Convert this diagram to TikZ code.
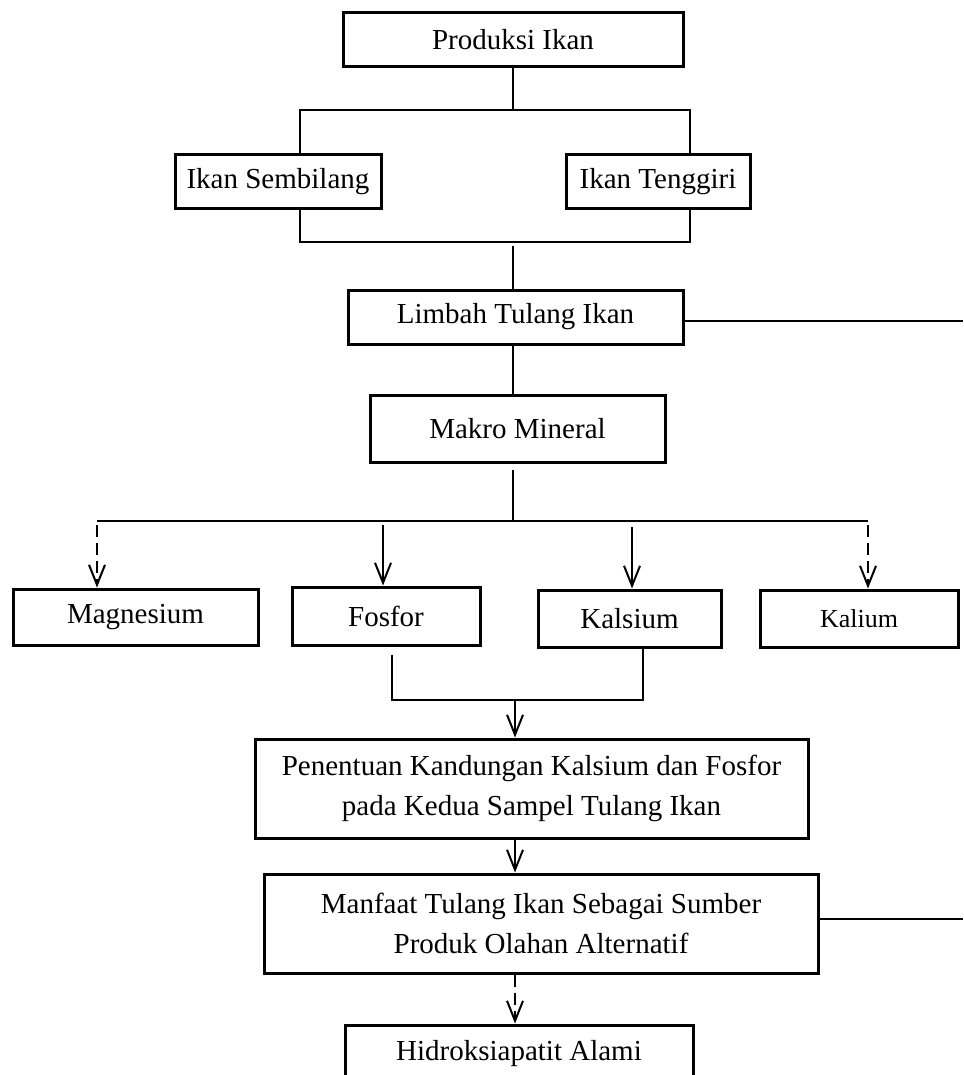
\documentclass[tikz,border=0pt]{standalone}
\usepackage{fontspec}
\setmainfont{Liberation Serif}
\usetikzlibrary{arrows.meta}
\begin{document}
\begin{tikzpicture}[x=1pt,y=-1pt,
  box/.style={draw, line width=3pt, inner sep=0pt, font=\fontsize{29}{40}\selectfont, align=center},
  conn/.style={line width=2pt},
  arr/.style={conn, -{Straight Barb[length=20pt,width=16pt,line width=2pt]}},
  darr/.style={arr, dash pattern=on 12pt off 6pt}]
\useasboundingbox (0,0) rectangle (963,1075);
\clip (0,0) rectangle (963,1075);
\fill[white] (0,0) rectangle (963,1075);

\node[box, minimum width=340pt, minimum height=54pt] (prod) at (513,40) {Produksi Ikan};
\node[box, minimum width=206pt, minimum height=54pt] (semb) at (278,182) {Ikan Sembilang};
\node[box, minimum width=184pt, minimum height=54pt] (teng) at (658,182) {Ikan Tenggiri};
\node[box, minimum width=335pt, minimum height=54pt] (limb) at (515.5,317) {Limbah Tulang Ikan};
\node[box, minimum width=295pt, minimum height=67pt] (makro) at (517.5,428.5) {Makro Mineral};
\node[box, minimum width=245pt, minimum height=56pt] (mag) at (135.5,617) {Magnesium};
\node[box, minimum width=188pt, minimum height=58pt] (fos) at (386,616) {Fosfor};
\node[box, minimum width=183pt, minimum height=57pt] (kal) at (629.5,618.5) {Kalsium};
\node[box, minimum width=198pt, minimum height=57pt, font=\fontsize{26}{32}\selectfont] (kali) at (859,618.5) {Kalium};
\node[box, minimum width=553pt, minimum height=99pt] (pen) at (531.5,788.5) {Penentuan Kandungan Kalsium dan Fosfor\\pada Kedua Sampel Tulang Ikan};
\node[box, minimum width=554pt, minimum height=99pt] (man) at (541,923.5) {Manfaat Tulang Ikan Sebagai Sumber\\Produk Olahan Alternatif};
\node[box, minimum width=348pt, minimum height=57pt] (hid) at (519,1053.5) {Hidroksiapatit Alami};

% top split
\coordinate (t1) at (513,110);
\coordinate (tl) at (300,110);
\coordinate (tr) at (690,110);
\draw[conn] (prod.south -| t1) -- (t1);
\draw[conn] (tl |- semb.north) -- (tl) -- (tr) -- (tr |- teng.north);
% join
\coordinate (jl) at (300,242);
\coordinate (jr) at (690,242);
\coordinate (jm) at (513,246);
\draw[conn] (jl |- semb.south) -- (jl) -- (jr) -- (jr |- teng.south);
\draw[conn] (jm) -- (jm |- limb.north);
% side lines
\coordinate (e1) at (963,321);
\draw[conn] (limb.east |- e1) -- (e1);
\coordinate (e2) at (963,919);
\draw[conn] (man.east |- e2) -- (e2);
% limbah to makro
\draw[conn] (limb.south -| jm) -- (makro.north -| jm);
% bus
\coordinate (m1) at (513,470);
\coordinate (bm) at (513,521);
\coordinate (b1) at (97,521);
\coordinate (b2) at (383,525);
\coordinate (b3) at (632,527);
\coordinate (b4) at (868,521);
\draw[conn] (m1) -- (bm);
\draw[conn] (b1) -- (b4);
\draw[darr] ([yshift=-4pt]b1) -- (b1 |- mag.north);
\draw[arr] (b2) -- (b2 |- fos.north);
\draw[arr] (b3) -- (b3 |- kal.north);
\draw[darr] ([yshift=-4pt]b4) -- (b4 |- kali.north);
% fosfor + kalsium join
\coordinate (fl) at (392,700);
\coordinate (fr) at (643,700);
\coordinate (fm) at (515,700);
\draw[conn] ([yshift=-8pt]fl |- fos.south) -- (fl) -- (fr) -- (fr |- kal.south);
\draw[arr] (fm) -- (fm |- pen.north);
\draw[arr] (pen.south -| fm) -- (man.north -| fm);
\draw[darr] (man.south -| fm) -- (hid.north -| fm);
\end{tikzpicture}
\end{document}
